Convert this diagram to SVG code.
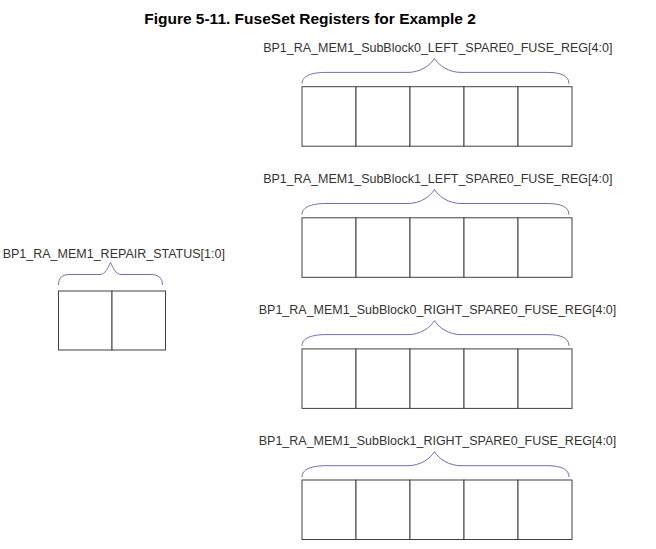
<svg xmlns="http://www.w3.org/2000/svg" width="656" height="549" viewBox="0 0 656 549">
<style>
.title{font-family:"Liberation Sans",Arial,sans-serif;font-weight:bold;font-size:15.5px;fill:#000;text-anchor:middle}
.lbl{font-family:"Liberation Sans",Arial,sans-serif;font-size:12.5px;fill:#333;text-anchor:middle}
.cell{fill:#fff;stroke:#404040;stroke-width:1}
.brace{fill:none;stroke:#6e6eb0;stroke-width:1}
</style>
<rect width="656" height="549" fill="#fff"/>
<text class="title" x="310" y="23.5">Figure 5-11. FuseSet Registers for Example 2</text>
<defs>
<g id="row5">
<rect class="cell" x="302" y="0" width="54" height="59.5"/>
<rect class="cell" x="356" y="0" width="54" height="59.5"/>
<rect class="cell" x="410" y="0" width="54" height="59.5"/>
<rect class="cell" x="464" y="0" width="54" height="59.5"/>
<rect class="cell" x="518" y="0" width="54" height="59.5"/>
<path class="brace" d="M302,-3 C302,-11 312,-14.3 326,-14.3 L408,-14.3 C420,-14.3 430,-21 434.5,-28.3 C439,-21 449,-14.3 461,-14.3 L547,-14.3 C561,-14.3 569,-11 569,-3"/>
</g>
</defs>
<g id="reg-left-sb0" transform="translate(0,86.7)">
<use href="#row5"/>
<text class="lbl" x="437.8" y="-34.7">BP1_RA_MEM1_SubBlock0_LEFT_SPARE0_FUSE_REG[4:0]</text>
</g>
<g id="reg-left-sb1" transform="translate(0,217.8)">
<use href="#row5"/>
<text class="lbl" x="437.8" y="-34.7">BP1_RA_MEM1_SubBlock1_LEFT_SPARE0_FUSE_REG[4:0]</text>
</g>
<g id="reg-right-sb0" transform="translate(0,348.9)">
<use href="#row5"/>
<text class="lbl" x="437.5" y="-34.7">BP1_RA_MEM1_SubBlock0_RIGHT_SPARE0_FUSE_REG[4:0]</text>
</g>
<g id="reg-right-sb1" transform="translate(0,480)">
<use href="#row5"/>
<text class="lbl" x="437.5" y="-34.7">BP1_RA_MEM1_SubBlock1_RIGHT_SPARE0_FUSE_REG[4:0]</text>
</g>
<g id="repair-status">
<rect class="cell" x="58.5" y="291" width="53.5" height="59"/>
<rect class="cell" x="112" y="291" width="53.5" height="59"/>
<path class="brace" d="M58.5,285 C58.5,278 62,274.5 70,274.5 L100,274.5 C105,274.5 108,268 110.5,262.5 C113,268 116,274.5 121,274.5 L151,274.5 C158,274.5 162.5,278 162.5,285"/>
<text class="lbl" x="113.8" y="257.5">BP1_RA_MEM1_REPAIR_STATUS[1:0]</text>
</g>
<g id="connectors"/>
</svg>
